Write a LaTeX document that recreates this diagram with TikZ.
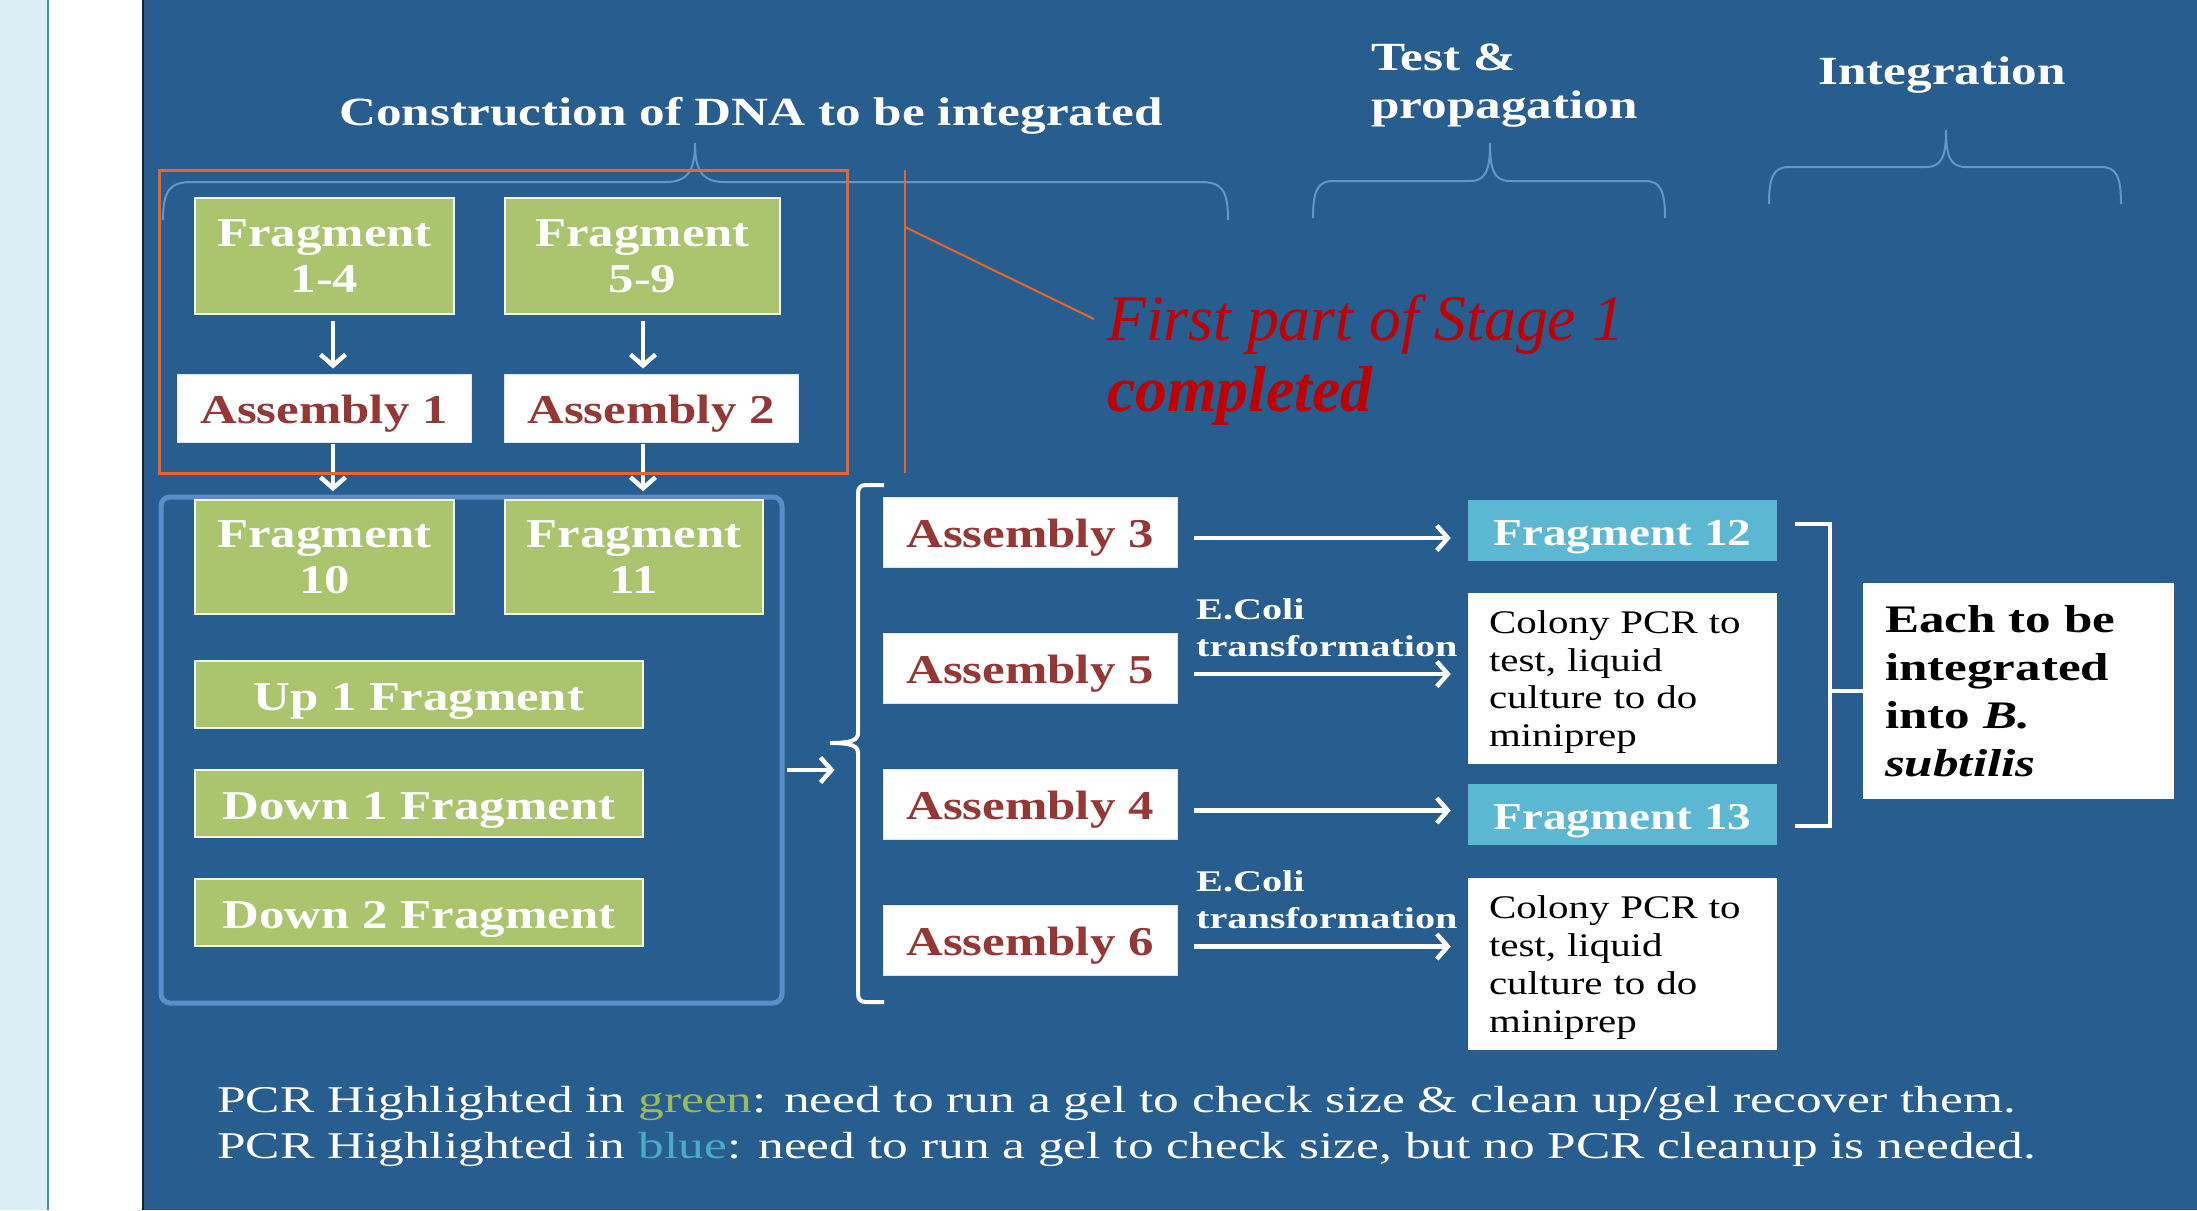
\documentclass[tikz,border=0pt]{standalone}
\usepackage{fontspec}
\setmainfont{Liberation Serif}
\newfontfamily\widefont[FakeStretch=1.24]{Liberation Serif}
\newfontfamily\headfont[FakeStretch=1.28]{Liberation Serif}
\newfontfamily\legfont[FakeStretch=1.36]{Liberation Serif}
\newfontfamily\ecolifont[FakeStretch=1.34]{Liberation Serif}
\newfontfamily\eachfont[FakeStretch=1.31]{Liberation Serif}
\newfontfamily\stagefont[FakeStretch=0.98]{Liberation Serif}
\usetikzlibrary{arrows.meta,calc}
\definecolor{bg}{RGB}{40,93,144}
\definecolor{strip}{RGB}{220,238,245}
\definecolor{stripline}{RGB}{58,147,184}
\definecolor{darkline}{RGB}{12,38,52}
\definecolor{fgreen}{RGB}{171,196,110}
\definecolor{fcyan}{RGB}{91,183,210}
\definecolor{asmred}{RGB}{149,55,53}
\definecolor{bracecol}{RGB}{100,150,205}
\definecolor{boxline}{RGB}{91,141,200}
\definecolor{orangeline}{RGB}{235,100,40}
\definecolor{stagered}{RGB}{192,0,0}
\definecolor{wgreen}{RGB}{155,187,89}
\definecolor{wblue}{RGB}{75,172,198}
\newcommand\boxfont{\widefont\bfseries\fontsize{41}{46}\selectfont}
\tikzset{
  gbox/.style={fill=fgreen, draw=white!85!fgreen, line width=1.5pt, text=white, font=\boxfont, align=center, inner sep=0pt, text depth=0pt},
  gline/.style={gbox, text height=31pt, minimum width=448pt, minimum height=67pt},
  abox/.style={fill=white, draw=white!85!bg, line width=1pt, text=asmred, font=\boxfont, inner sep=0pt, minimum width=294pt, text height=30pt, text depth=0pt},
  cbox/.style={fill=fcyan, text=white, font=\widefont\bfseries\fontsize{38}{44}\selectfont, inner sep=0pt, minimum width=309pt, minimum height=61pt, text height=29pt, text depth=0pt},
  wbox/.style={fill=white, text=black, inner sep=0pt, align=left},
  arr/.style={draw=white, line width=4.5pt, -{Straight Barb[length=11pt,width=25pt]}},
  brace/.style={draw=bracecol, line width=2pt},
  wline/.style={draw=white, line width=4pt},
  head/.style={text=white, font=\headfont\bfseries\fontsize{40}{48}\selectfont, inner sep=0pt},
  ecoli/.style={anchor=north west, inner sep=0pt, align=left, text=white, font=\ecolifont\bfseries\fontsize{30}{37}\selectfont},
  colony/.style={wbox, minimum width=309pt, text width=267pt, text depth=113pt, font=\widefont\fontsize{33}{37.7}\selectfont},
}
\begin{document}
\begin{tikzpicture}[x=1pt,y=-1pt]
\useasboundingbox (0,0) rectangle (2197,1210);
% background
\fill[strip] (0,0) rectangle (48,1210);
\fill[white] (48,0) rectangle (142,1210);
\fill[bg] (142,0) rectangle (2197,1210);
\draw[stripline, line width=2.5pt] (48,0) -- (48,1210);
\draw[darkline, line width=2pt] (142.5,0) -- (142.5,1210);

% headings
\node[head, anchor=base] (h1) at (751,125) {Construction of DNA to be integrated};
\node[head, anchor=north west, align=left] (h2) at (1371,44) {Test \&\\propagation};
\node[head, anchor=base] (h3) at (1942,84) {Integration};

% braces
\draw[brace] (163,220) .. controls (163,190) and (170,182) .. (192,182) -- (666,182)
  .. controls (688,182) and (695,170) .. (695,143) .. controls (695,170) and (702,182) .. (724,182)
  -- (1200,182) .. controls (1222,182) and (1228,190) .. (1228,220);
\draw[brace] (1313,218) .. controls (1313,190) and (1318,181) .. (1333,181) -- (1470,181)
  .. controls (1486,181) and (1490,170) .. (1490,143) .. controls (1490,170) and (1494,181) .. (1510,181)
  -- (1645,181) .. controls (1660,181) and (1665,190) .. (1665,218);
\draw[brace] (1769,204) .. controls (1769,176) and (1774,167) .. (1789,167) -- (1926,167)
  .. controls (1942,167) and (1946,156) .. (1946,130) .. controls (1946,156) and (1950,167) .. (1966,167)
  -- (2101,167) .. controls (2116,167) and (2121,176) .. (2121,204);

% rounded blue box
\node[draw=boxline, line width=5pt, rounded corners=9pt, minimum width=621pt, minimum height=506pt, inner sep=0pt] (grp) at (471.5,750) {};

% left column
\node[gbox, minimum width=259pt, minimum height=116pt] (f14) at (324.5,256) {Fragment\\1-4};
\node[gbox, minimum width=275pt, minimum height=116pt] (f59) at (642.5,256) {Fragment\\5-9};
\node[abox, minimum height=68pt] (a1) at (324,408) {Assembly 1};
\node[abox, minimum height=68pt] (a2) at (651,408) {Assembly 2};
\node[gbox, minimum width=259pt, minimum height=114pt] (f10) at (324.5,557) {Fragment\\10};
\node[gbox, minimum width=258pt, minimum height=114pt] (f11) at (634,557) {Fragment\\11};
\node[gline] (up1) at (419,694.5) {Up 1 Fragment};
\node[gline] (dn1) at (419,803.5) {Down 1 Fragment};
\node[gline] (dn2) at (419,912.5) {Down 2 Fragment};

\draw[arr] ($(f14.south)+(8.5,6)$) -- ($(a1.north)+(9,-5)$);
\draw[arr] ($(f59.south)+(0.5,6)$) -- ($(a2.north)+(-8,-5)$);
\draw[arr] ($(a1.south)+(9,1)$) -- ($(f10.north)+(8.5,-8)$);
\draw[arr] ($(a2.south)+(-8,1)$) -- ($(f11.north)+(9,-8)$);

% orange highlight
\draw[orangeline, line width=3pt] (159,170) rectangle (847,473);
\coordinate (ov1) at (905,170);
\coordinate (ov2) at (905,473);
\coordinate (ovm) at (905,227);
\draw[orangeline, line width=2pt] (ov1) -- (ov2);
\node[anchor=base west, inner sep=0pt, text=stagered, font=\stagefont\fontsize{65}{70}\selectfont\itshape] (st1) at (1107,340) {First part of Stage 1};
\node[anchor=base west, inner sep=0pt, text=stagered, font=\stagefont\fontsize{65}{70}\selectfont\bfseries\itshape] (st2) at (1107,411) {completed};
\draw[orangeline, line width=2pt] (ovm) -- ($(st1.west)+(-13,-5)$);

% arrow from group to brace
\draw[arr] ($(grp.east)+(2,20)$) -- ++(48,0);

% curly bracket
\coordinate (cb) at (830,743);
\draw[wline] (884,485) -- (866,485) .. controls (860,485) and (858,488) .. (858,494) -- (858,733)
  .. controls (858,740) and (852,743) .. (cb) .. controls (852,743) and (858,746) .. (858,753)
  -- (858,993) .. controls (858,999) and (860,1002) .. (866,1002) -- (884,1002);

% assemblies column
\node[abox, minimum height=70pt] (a3) at (1030,532) {Assembly 3};
\node[abox, minimum height=70pt] (a5) at (1030,668) {Assembly 5};
\node[abox, minimum height=70pt] (a4) at (1030,804.5) {Assembly 4};
\node[abox, minimum height=70pt] (a6) at (1030,940.5) {Assembly 6};

% right column
\node[cbox] (f12) at (1622.5,530.5) {Fragment 12};
\node[cbox] (f13) at (1622.5,814.5) {Fragment 13};
\node[colony, minimum height=171pt] (c1) at (1622.5,678.5) {Colony PCR to\\test, liquid\\culture to do\\miniprep};
\node[colony, minimum height=172pt] (c2) at (1622.5,964) {Colony PCR to\\test, liquid\\culture to do\\miniprep};

\draw[arr] ($(a3.east)+(16,6)$) -- ($(f12.west |- a3.east)+(-17,6)$);
\draw[arr] ($(a5.east)+(16,6)$) -- ($(c1.west |- a5.east)+(-17,6)$);
\draw[arr] ($(a4.east)+(16,6)$) -- ($(f13.west |- a4.east)+(-17,6)$);
\draw[arr] ($(a6.east)+(16,6)$) -- ($(c2.west |- a6.east)+(-17,6)$);

\node[ecoli] (t1) at (1196,598) {E.Coli\\transformation};
\node[ecoli] (t2) at (1196,870) {E.Coli\\transformation};

% integration box and bracket
\node[wbox, minimum width=311pt, minimum height=216pt, text width=267pt, font=\eachfont\bfseries\fontsize{39}{48}\selectfont] (each) at (2018.5,691) {Each to be\\integrated\\into \textit{B.}\\\textit{subtilis}};
\draw[wline] (1795,524) -- (1830,524) -- (1830,826) -- (1795,826);
\draw[wline] (each.west) -- ($(each.west)+(-33,0)$);

% legend
\node[anchor=north west, inner sep=0pt, align=left, text=white, font=\legfont\fontsize{37.8}{46}\selectfont] (leg) at (217,1086)
  {PCR Highlighted in \textcolor{wgreen}{green}: need to run a gel to check size \& clean up/gel recover them.\\
   PCR Highlighted in \textcolor{wblue}{blue}: need to run a gel to check size, but no PCR cleanup is needed.};
\end{tikzpicture}
\end{document}
